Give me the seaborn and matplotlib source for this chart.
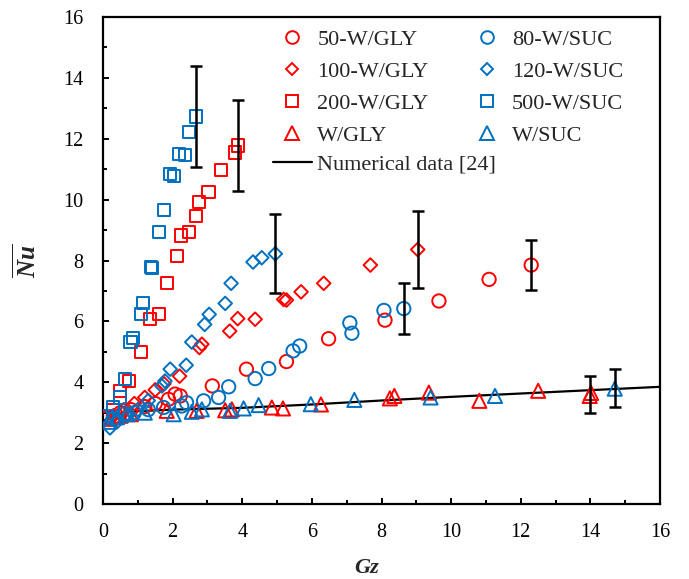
import matplotlib
matplotlib.use("Agg")
import matplotlib.pyplot as plt
from matplotlib.lines import Line2D
from matplotlib.ticker import MultipleLocator
import seaborn as sns
import pandas as pd

# ---------------- data ----------------
gly50_x = [0.3, 0.5, 0.8, 1.2, 1.5, 1.88, 2.07, 2.22, 3.14, 4.12, 5.27, 6.48, 8.10, 9.65, 11.09, 12.30]
gly50_y = [2.85, 3.0, 3.1, 3.2, 3.3, 3.44, 3.61, 3.55, 3.88, 4.43, 4.68, 5.43, 6.04, 6.67, 7.38, 7.85]

suc80_x = [0.3, 0.6, 0.9, 1.3, 1.74, 2.26, 2.40, 2.89, 3.32, 3.61, 4.37, 4.76, 5.46, 5.65, 7.09, 7.15, 8.07, 8.64]
suc80_y = [2.8, 2.95, 3.0, 3.1, 3.17, 3.22, 3.33, 3.39, 3.50, 3.85, 4.12, 4.45, 5.03, 5.19, 5.95, 5.61, 6.36, 6.42]

gly100_x = [0.3, 0.6, 0.9, 1.2, 1.5, 1.75, 2.2, 2.77, 2.84, 3.64, 3.87, 4.37, 5.19, 5.27, 5.69, 6.34, 7.68, 9.04]
gly100_y = [2.9, 3.1, 3.3, 3.5, 3.75, 3.95, 4.2, 5.14, 5.25, 5.68, 6.09, 6.07, 6.72, 6.70, 6.97, 7.25, 7.85, 8.36]

suc120_x = [0.2, 0.4, 0.7, 1.0, 1.3, 1.69, 1.78, 1.93, 2.39, 2.55, 2.92, 3.05, 3.51, 3.68, 4.31, 4.56, 4.95]
suc120_y = [2.5, 2.7, 2.9, 3.1, 3.4, 3.88, 4.04, 4.43, 4.56, 5.32, 5.90, 6.23, 6.59, 7.25, 7.95, 8.09, 8.22]

gly200_x = [0.05, 0.3, 0.48, 0.74, 1.08, 1.35, 1.62, 1.83, 2.12, 2.23, 2.46, 2.66, 2.77, 3.03, 3.39, 3.80, 3.87]
gly200_y = [2.84, 3.1, 3.72, 4.04, 4.99, 6.09, 6.25, 7.26, 8.16, 8.82, 8.94, 9.46, 9.91, 10.24, 10.96, 11.55, 11.78]

suc500_x = [0.1, 0.3, 0.5, 0.64, 0.79, 0.86, 1.09, 1.16, 1.38, 1.40, 1.60, 1.74, 1.93, 2.04, 2.19, 2.36, 2.48, 2.68]
suc500_y = [2.9, 3.2, 3.5, 4.10, 5.32, 5.46, 6.23, 6.59, 7.79, 7.75, 8.94, 9.67, 10.85, 10.79, 11.50, 11.47, 12.21, 12.73]

wgly_x = [0.2, 0.5, 0.8, 1.83, 2.69, 3.51, 3.70, 4.85, 5.17, 6.26, 8.24, 8.37, 9.36, 10.81, 12.50, 13.98, 14.02]
wgly_y = [2.8, 2.9, 2.95, 3.06, 3.06, 3.08, 3.11, 3.17, 3.14, 3.27, 3.47, 3.55, 3.66, 3.39, 3.72, 3.55, 3.65]

wsuc_x = [0.15, 0.4, 0.7, 1.2, 2.03, 2.55, 2.84, 3.65, 4.04, 4.47, 5.97, 7.22, 9.41, 11.26, 14.70]
wsuc_y = [2.7, 2.85, 2.95, 3.0, 2.95, 3.03, 3.11, 3.06, 3.14, 3.25, 3.28, 3.42, 3.50, 3.55, 3.79]

num_x = [0.05, 0.3, 0.6, 1.0, 2.0, 3.0, 4.0, 6.0, 8.0, 10.0, 12.0, 14.0, 16.0]
num_y = [2.75, 2.9, 3.0, 3.05, 3.1, 3.13, 3.16, 3.27, 3.40, 3.52, 3.63, 3.74, 3.85]

err_x = [2.68, 3.87, 4.95, 9.04, 8.64, 12.30, 14.00, 14.70]
err_y = [12.73, 11.78, 8.22, 8.36, 6.42, 7.85, 3.60, 3.80]
err_e = [1.65, 1.50, 1.30, 1.25, 0.84, 0.83, 0.60, 0.62]

labels = ["50-W/GLY", "100-W/GLY", "200-W/GLY", "W/GLY",
          "80-W/SUC", "120-W/SUC", "500-W/SUC", "W/SUC"]
line_label = "Numerical data [24]"

# ---------------- style ----------------
sns.set_style("white")
plt.rcParams["font.family"] = ["Liberation Serif", "DejaVu Serif"]
plt.rcParams["mathtext.fontset"] = "custom"
plt.rcParams["mathtext.rm"] = "Liberation Serif"
plt.rcParams["mathtext.it"] = "Liberation Serif:italic"
plt.rcParams["mathtext.bf"] = "Liberation Serif:bold"
try:
    plt.rcParams["mathtext.bfit"] = "Liberation Serif:italic:bold"
    ylab = r"$\overline{\mathbfit{Nu}}$"
except Exception:
    ylab = r"$\overline{\mathbf{Nu}}$"

RED = "#FF0000"
BLUE = "#0070C0"

fig = plt.figure(figsize=(6.89, 5.79), dpi=100)
ax = fig.add_axes([103 / 689, 75 / 579, 557 / 689, 487 / 579])

series = [
    (gly50_x, gly50_y, RED, "o", 92, labels[0]),
    (gly100_x, gly100_y, RED, "D", 48, labels[1]),
    (gly200_x, gly200_y, RED, "s", 76, labels[2]),
    (wgly_x, wgly_y, RED, "^", 104, labels[3]),
    (suc80_x, suc80_y, BLUE, "o", 92, labels[4]),
    (suc120_x, suc120_y, BLUE, "D", 48, labels[5]),
    (suc500_x, suc500_y, BLUE, "s", 76, labels[6]),
    (wsuc_x, wsuc_y, BLUE, "^", 104, labels[7]),
]

# numerical line
sns.lineplot(x=num_x, y=num_y, color="black", linewidth=1.6, ax=ax, zorder=2,
             legend=False)

handles = []
for xs, ys, col, mk, s, lab in series:
    df = pd.DataFrame({"Gz": xs, "Nu": ys})
    sns.scatterplot(data=df, x="Gz", y="Nu", marker=mk, s=s,
                    facecolor="none", edgecolor=col, linewidth=1.4,
                    ax=ax, zorder=3, legend=False)
    handles.append(Line2D([], [], linestyle="none", marker=mk,
                          markersize=(s ** 0.5) * 0.95, markerfacecolor="none",
                          markeredgecolor=col, markeredgewidth=1.4, label=lab))

ax.errorbar(err_x, err_y, yerr=err_e, fmt="none", ecolor="black",
            elinewidth=1.8, capsize=4, capthick=1.8, zorder=4)

ax.set_xlim(0, 16)
ax.set_ylim(0, 16)
ax.xaxis.set_major_locator(MultipleLocator(2))
ax.xaxis.set_minor_locator(MultipleLocator(1))
ax.yaxis.set_major_locator(MultipleLocator(2))
ax.yaxis.set_minor_locator(MultipleLocator(1))
ax.tick_params(which="both", direction="in", top=False, right=False,
               left=True, bottom=True, width=1.4, colors="black")
ax.tick_params(which="major", length=4.5, labelsize=14.5)
ax.tick_params(axis="x", which="major", pad=14)
ax.tick_params(axis="y", which="major", pad=14)
ax.tick_params(which="minor", length=3)
for sp in ax.spines.values():
    sp.set_color("black")
    sp.set_linewidth(1.6)

ax.set_xlabel("Gz", fontsize=16, fontstyle="italic", fontweight="bold",
              labelpad=14)
ax.xaxis.set_label_coords(0.473, -0.11)
ax.set_ylabel(ylab, fontsize=18, labelpad=16)

leg1 = ax.legend(handles=handles, loc="upper left",
                 bbox_to_anchor=(0.305, 0.975), ncol=2, frameon=False,
                 fontsize=16, handlelength=1.75, handletextpad=0.25,
                 labelspacing=0.52, columnspacing=1.75, borderpad=0,
                 borderaxespad=0)
ax.add_artist(leg1)
line_handle = Line2D([], [], color="black", linewidth=1.6, label=line_label)
ax.legend(handles=[line_handle], loc="upper left",
          bbox_to_anchor=(0.305, 0.718), frameon=False, fontsize=16,
          handlelength=1.75, handletextpad=0.25, borderpad=0, borderaxespad=0)

fig.savefig("out.png", dpi=100)
